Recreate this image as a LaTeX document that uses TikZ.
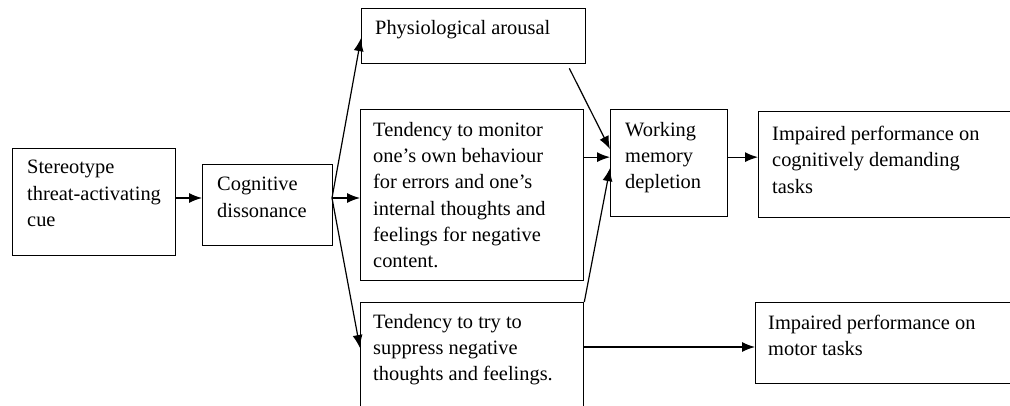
\documentclass[tikz,border=0pt]{standalone}
\usepackage{fontspec}
\setmainfont{Liberation Serif}
\usetikzlibrary{calc,arrows.meta}

\begin{document}
\begin{tikzpicture}[x=1pt,y=-1pt,
	box/.style={draw,line width=1.3pt,anchor=north west,inner sep=0pt},
	txt/.style={anchor=north west,align=left,inner sep=0pt,font=\fontsize{20.4}{26.3}\selectfont},
	arr/.style={line width=1.2pt,-{Latex[length=13pt,width=10pt]}}]
	\useasboundingbox (0,0) rectangle (1010,406);
	\clip (0,0) rectangle (1010,406);
	\node[box,minimum width=163pt,minimum height=107pt] (cue) at (12,148) {};
	\node[box,minimum width=130pt,minimum height=81pt] (diss) at (202,164) {};
	\node[box,minimum width=224pt,minimum height=55pt] (arousal) at (361,8) {};
	\node[box,minimum width=223pt,minimum height=171pt] (monitor) at (360,109) {};
	\node[box,minimum width=223pt,minimum height=140pt] (suppress) at (360,302) {};
	\node[box,minimum width=117pt,minimum height=107pt] (wm) at (610,109) {};
	\node[box,minimum width=290pt,minimum height=106pt] (cogn) at (758,111) {};
	\node[box,minimum width=290pt,minimum height=81pt] (motor) at (755,302) {};
	\node[txt] (cue-t) at ($(cue.north west)+(15,12)$) {Stereotype\\threat-activating\\cue};
	\node[txt] (diss-t) at ($(diss.north west)+(15,13)$) {Cognitive\\dissonance};
	\node[txt] (arousal-t) at ($(arousal.north west)+(14,12)$) {Physiological arousal};
	\node[txt] (monitor-t) at ($(monitor.north west)+(13,13)$) {Tendency to monitor\\one’s own behaviour\\for errors and one’s\\internal thoughts and\\feelings for negative\\content.};
	\node[txt] (suppress-t) at ($(suppress.north west)+(13,12)$) {Tendency to try to\\suppress negative\\thoughts and feelings.};
	\node[txt] (wm-t) at ($(wm.north west)+(15,13)$) {Working\\memory\\depletion};
	\node[txt] (cogn-t) at ($(cogn.north west)+(14,15)$) {Impaired performance on\\cognitively demanding\\tasks};
	\node[txt] (motor-t) at ($(motor.north west)+(13,13)$) {Impaired performance on\\motor tasks};
	\coordinate (fan) at (332,198);
	\coordinate (wm-a) at ($(wm.west)+(0,-14)$);
	\coordinate (wm-b) at ($(wm.west)+(0,-6)$);
	\coordinate (wm-c) at ($(wm.west)+(0,5)$);
	\coordinate (mot) at ($(suppress.north east)+(0,45)$);
	\draw[arr] (fan -| cue.east) -- (fan -| diss.west);
	\draw[arr] (fan) -- ($(arousal.west)+(0,2)$);
	\draw[arr] (fan) -- (fan -| monitor.west);
	\draw[arr] (fan) -- ($(suppress.north west)+(0,46)$);
	\draw[arr] ($(arousal.south east)+(-17,4)$) -- (wm-a);
	\draw[arr] (wm-b -| monitor.east) -- (wm-b);
	\draw[arr] (suppress.north east) -- (wm-c);
	\draw[arr] (wm-b -| wm.east) -- (wm-b -| cogn.west);
	\draw[arr] (mot) -- (mot -| motor.west);
\end{tikzpicture}
\end{document}
